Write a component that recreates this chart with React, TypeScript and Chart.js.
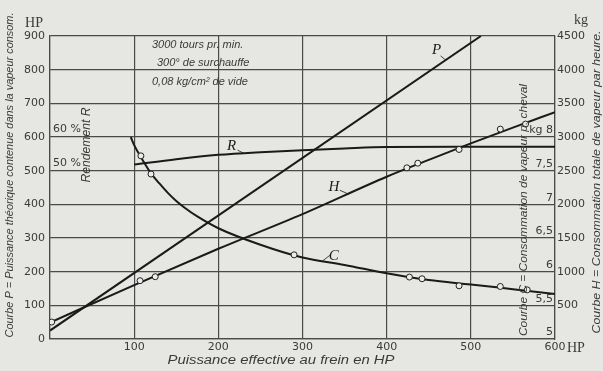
import React, { useEffect, useRef } from 'react';
import { Chart, registerables } from 'chart.js';

Chart.register(...registerables);

// ---- data ----
// Courbe P : puissance théorique (HP, left axis)
const pX = [0, 512];
const pVals = [25, 900];

// Courbe H : consommation totale de vapeur (kg/h, right axis)
const hX = [0, 100, 200, 300, 400, 450, 500, 550, 600];
const hVals = [245, 800, 1340, 1855, 2410, 2660, 2905, 3140, 3370];
const hObsX = [2, 107, 125, 424, 437, 486, 535, 565];
const hObsVals = [252, 866, 925, 2542, 2611, 2815, 3117, 3192];

// Courbe C : consommation de vapeur par cheval (kg/HP·h)
const cX = [96, 100, 110, 120, 130, 140, 150, 160, 175, 200, 250, 300, 350, 400, 450, 500, 550, 600];
const cVals = [8.0, 7.88, 7.66, 7.46, 7.31, 7.17, 7.05, 6.95, 6.82, 6.645, 6.4, 6.21, 6.1, 5.975, 5.875, 5.81, 5.74, 5.67];
const cObsX = [108, 120, 290, 427, 442, 486, 535, 567];
const cObsVals = [7.72, 7.45, 6.25, 5.92, 5.895, 5.79, 5.78, 5.73];

// Courbe R : rendement (%)
const rX = [100, 150, 200, 250, 300, 350, 400, 500, 600];
const rVals = [51.8, 53.4, 54.7, 55.5, 56.1, 56.6, 57.0, 57.1, 57.1];

// tick labels
const cTickVals = [5, 5.5, 6, 6.5, 7, 7.5, 8];
const cTickLabels = ['5', '5,5', '6', '6,5', '7', '7,5', 'kg 8'];
const rTickVals = [50, 60];
const rTickLabels = ['50 %', '60 %'];

const noteLines = ['3000 tours pr. min.', '300° de surchauffe', '0,08 kg/cm² de vide'];

const INK = '#1a1a1a';
const TXT = '#3a3a3a';
const GRID = '#4a4a4a';
const BG = '#e6e6e3';

const pts = (xs: number[], ys: number[]) => xs.map((x, i) => ({ x, y: ys[i] }));

function fitText(ctx: CanvasRenderingContext2D, text: string, cx: number, cy: number, len: number, font: string, rot = 0) {
  ctx.save();
  ctx.font = font;
  ctx.translate(cx, cy);
  if (rot) ctx.rotate(rot);
  const w = ctx.measureText(text).width;
  ctx.scale(len / w, 1);
  ctx.textAlign = 'center';
  ctx.textBaseline = 'middle';
  ctx.fillText(text, 0, 0);
  ctx.restore();
}

const bgPlugin = {
  id: 'bg',
  beforeDraw(chart: any) {
    const ctx = chart.ctx;
    ctx.save();
    ctx.fillStyle = BG;
    ctx.fillRect(0, 0, chart.width, chart.height);
    ctx.restore();
  },
};

const textPlugin = {
  id: 'texts',
  afterDatasetsDraw(chart: any) {
    const ctx: CanvasRenderingContext2D = chart.ctx;
    const a = chart.chartArea;
    const sx = chart.scales.x;
    const sy = chart.scales.y;
    const sk = chart.scales.yKg;
    const sc = chart.scales.yC;
    const sr = chart.scales.yR;
    ctx.save();
    ctx.fillStyle = TXT;

    // unit labels
    ctx.font = '14px "Liberation Serif", serif';
    ctx.textBaseline = 'middle';
    ctx.textAlign = 'center';
    ctx.fillText('HP', 34, 23);
    ctx.fillText('kg', 581, 20);
    ctx.textAlign = 'left';
    ctx.fillText('HP', 567, sx.bottom - 23);

    // axis titles
    const sans = '"Liberation Sans", sans-serif';
    fitText(ctx, 'Courbe P = Puissance théorique contenue dans la vapeur consom.', 10, 175, 325, `italic 11px ${sans}`, -Math.PI / 2);
    fitText(ctx, 'Courbe H = Consommation totale de vapeur par heure.', 597, 182, 303, `italic 11.5px ${sans}`, -Math.PI / 2);
    fitText(ctx, 'Courbe C = Consommation de vapeur p. cheval', 524, 210, 252, `italic 11.5px ${sans}`, -Math.PI / 2);
    fitText(ctx, 'Rendement R', 87, 145, 75, `italic 12px ${sans}`, -Math.PI / 2);
    fitText(ctx, 'Puissance effective au frein en HP', 281, 361, 227, `italic 12px ${sans}`);

    // notes
    ctx.font = `italic 11px ${sans}`;
    ctx.textAlign = 'left';
    ctx.textBaseline = 'middle';
    ctx.fillText(noteLines[0], 152, 45);
    ctx.fillText(noteLines[1], 157, 63);
    ctx.fillText(noteLines[2], 152, 82);

    // inner scale labels for C (right) and R (left)
    ctx.font = `11px "DejaVu Sans", sans-serif`;
    ctx.textBaseline = 'bottom';
    ctx.textAlign = 'right';
    cTickVals.forEach((v, i) => {
      ctx.fillText(cTickLabels[i], a.right - 2, sc.getPixelForValue(v) - 1);
    });
    ctx.textAlign = 'left';
    rTickVals.forEach((v, i) => {
      ctx.fillText(rTickLabels[i], a.left + 3, sr.getPixelForValue(v) - 2);
    });

    // curve letters with leaders
    const letters = [
      { t: 'P', x: 470, y: sy.getPixelForValue(829), lx: -9, ly: -10, s: [-5, -4] },
      { t: 'R', x: 230, y: sr.getPixelForValue(55.2), lx: -12, ly: -7, s: [-6, -3] },
      { t: 'H', x: 355, y: sk.getPixelForValue(2150), lx: -15, ly: -7, s: [-9, -4] },
      { t: 'C', x: 324, y: sc.getPixelForValue(6.16), lx: 11, ly: -5, s: [7, -5.5] },
    ];
    ctx.font = 'italic 15px "Liberation Serif", serif';
    ctx.textAlign = 'center';
    ctx.textBaseline = 'middle';
    ctx.strokeStyle = INK;
    ctx.lineWidth = 0.8;
    letters.forEach((l) => {
      const px = sx.getPixelForValue(l.x);
      const py = l.y;
      ctx.fillStyle = INK;
      ctx.fillText(l.t, px + l.lx, py + l.ly);
      ctx.beginPath();
      ctx.moveTo(px + l.s[0], py + l.s[1]);
      ctx.lineTo(px, py);
      ctx.stroke();
    });
    ctx.restore();
  },
};

export default function App() {
  const ref = useRef<HTMLCanvasElement | null>(null);
  useEffect(() => {
    if (!ref.current) return;
    const lineDs = (label: string, data: any[], axis: string, smooth: boolean) => ({
      label,
      data,
      yAxisID: axis,
      borderColor: INK,
      borderWidth: 2,
      pointRadius: 0,
      fill: false,
      tension: 0,
      cubicInterpolationMode: smooth ? 'monotone' : 'default',
      order: 2,
    });
    const obsDs = (label: string, data: any[], axis: string) => ({
      label,
      data,
      yAxisID: axis,
      showLine: false,
      pointRadius: 3,
      pointBackgroundColor: '#ececea',
      pointBorderColor: '#222',
      pointBorderWidth: 1,
      order: 1,
    });
    const tickFont = { family: '"DejaVu Sans", sans-serif', size: 11 };
    const grid = { color: GRID, lineWidth: 1.2, drawTicks: false };
    const chart = new Chart(ref.current, {
      type: 'line',
      data: {
        datasets: [
          lineDs('P', pts(pX, pVals), 'y', false),
          lineDs('H', pts(hX, hVals), 'yKg', true),
          lineDs('C', pts(cX, cVals), 'yC', true),
          lineDs('R', pts(rX, rVals), 'yR', true),
          obsDs('H obs', pts(hObsX, hObsVals), 'yKg'),
          obsDs('C obs', pts(cObsX, cObsVals), 'yC'),
        ] as any,
      },
      options: {
        animation: false,
        responsive: false,
        layout: { padding: { top: 36, left: 0, right: 0, bottom: 0 } },
        plugins: { legend: { display: false }, tooltip: { enabled: false } },
        scales: {
          x: {
            type: 'linear',
            min: 0,
            max: 600,
            grid,
            border: { color: GRID, width: 1.2 },
            ticks: {
              stepSize: 100,
              padding: 2,
              color: TXT,
              font: tickFont,
              maxRotation: 0,
              callback: (v: any) => (v === 0 ? '' : String(v)),
            },
            afterFit: (s: any) => { s.height = 32; },
          },
          y: {
            position: 'left',
            min: 0,
            max: 900,
            grid,
            border: { color: GRID, width: 1.2 },
            ticks: { stepSize: 100, padding: 5, color: TXT, font: tickFont },
            afterFit: (s: any) => { s.width = 50; },
          },
          yKg: {
            position: 'right',
            min: 0,
            max: 4500,
            grid: { display: false, drawTicks: false },
            border: { color: GRID, width: 1.2 },
            ticks: {
              stepSize: 500,
              padding: 2,
              color: TXT,
              font: tickFont,
              callback: (v: any) => (v === 0 ? '' : String(v)),
            },
            afterFit: (s: any) => { s.width = 48; },
          },
          yC: { display: false, min: 5, max: 9.5 },
          yR: { display: false, min: 0, max: 90 },
        },
      } as any,
      plugins: [bgPlugin, textPlugin],
    });
    return () => chart.destroy();
  }, []);
  return (
    <div style={{ position: 'absolute', left: 0, top: 0, width: 603, height: 371 }}>
      <canvas ref={ref} width={603} height={371} style={{ display: 'block' }} />
    </div>
  );
}
